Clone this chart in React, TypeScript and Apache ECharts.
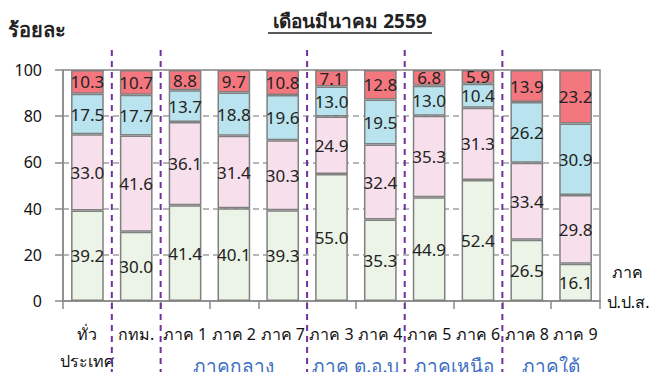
import React, { useEffect, useRef } from "react";
import * as echarts from "echarts";

const categories = ["ทั่ว\nประเทศ", "กทม.", "ภาค 1", "ภาค 2", "ภาค 7", "ภาค 3", "ภาค 4", "ภาค 5", "ภาค 6", "ภาค 8", "ภาค 9"];
const seriesGreen = [39.2, 30.0, 41.4, 40.1, 39.3, 55.0, 35.3, 44.9, 52.4, 26.5, 16.1];
const seriesPink = [33.0, 41.6, 36.1, 31.4, 30.3, 24.9, 32.4, 35.3, 31.3, 33.4, 29.8];
const seriesBlue = [17.5, 17.7, 13.7, 18.8, 19.6, 13.0, 19.5, 13.0, 10.4, 26.2, 30.9];
const seriesRed = [10.3, 10.7, 8.8, 9.7, 10.8, 7.1, 12.8, 6.8, 5.9, 13.9, 23.2];
const yTicks = [0, 20, 40, 60, 80, 100];
const groupNames = ["ภาคกลาง", "ภาค ต.อ.บ", "ภาคเหนือ", "ภาคใต้"];
const groupRanges = [[2, 4], [5, 6], [7, 8], [9, 10]];
const dividerAfter = [0, 1, 4, 6, 8];
const titleText = "เดือนมีนาคม 2559";
const yAxisTitle = "ร้อยละ";
const rightLabel = ["ภาค", "ป.ป.ส."];

const FONT = "Tahoma, 'Noto Sans', 'DejaVu Sans', sans-serif";
const colors = ["#EBF4E6", "#F7E0EC", "#B9E3EE", "#F4777F"];

export default function App() {
  const ref = useRef<HTMLDivElement>(null);
  useEffect(() => {
    document.body.style.margin = "0";
    if (!ref.current) return;
    const chart = echarts.init(ref.current, null, { renderer: "svg" });
    const mk = (name: string, data: number[], color: string) => ({
      name,
      type: "bar",
      stack: "total",
      data,
      barWidth: "67%",
      itemStyle: { color, borderColor: "#808080", borderWidth: 1.5 },
      label: {
        show: true,
        position: "inside",
        fontSize: 17,
        fontFamily: FONT,
        color: "#222",
        formatter: (p: any) => Number(p.value).toFixed(1),
      },
    });
    chart.setOption({
      animation: false,
      grid: {
        left: 63,
        right: 51,
        top: 70,
        bottom: 71,
        containLabel: false,
        outerBoundsMode: "none",
        show: true,
        borderColor: "#8a8a8a",
        borderWidth: 1.5,
      },
      xAxis: {
        type: "category",
        data: categories,
        axisLine: { lineStyle: { color: "#8a8a8a", width: 1.5 } },
        axisTick: { show: true, interval: 0, length: 8, lineStyle: { color: "#8a8a8a", width: 1.5 } },
        axisLabel: { interval: 0, margin: 19, fontSize: 16, fontFamily: FONT, color: "#111", lineHeight: 27, verticalAlign: "top" },
      },
      yAxis: {
        type: "value",
        min: 0,
        max: 100,
        interval: 20,
        axisLine: { show: true, lineStyle: { color: "#8a8a8a", width: 1.5 } },
        axisTick: { show: true, length: 8, lineStyle: { color: "#8a8a8a", width: 1.5 } },
        axisLabel: { margin: 21, fontSize: 16, fontFamily: FONT, color: "#111", customValues: yTicks },
        splitLine: { show: true, lineStyle: { color: "#a0a0a0", type: [6, 4], width: 1.5 } },
      },
      series: [
        mk("s1", seriesGreen, colors[0]),
        mk("s2", seriesPink, colors[1]),
        mk("s3", seriesBlue, colors[2]),
        mk("s4", seriesRed, colors[3]),
      ],
    });

    const px = (i: number) => chart.convertToPixel({ xAxisIndex: 0 }, i) as number;
    const graphics: any[] = [];
    dividerAfter.forEach((i) => {
      const x = (px(i) + px(i + 1)) / 2;
      graphics.push({
        type: "line",
        shape: { x1: x, y1: 50, x2: x, y2: 372 },
        style: { stroke: "#7030A0", lineWidth: 2, lineDash: [6, 5] },
        z: 100,
      });
    });
    groupNames.forEach((name, k) => {
      const [a, b] = groupRanges[k];
      const x = (px(a) + px(b)) / 2;
      graphics.push({
        type: "text",
        x,
        y: 356,
        style: { text: name, fill: "#3E6FC4", fontSize: 19, fontFamily: FONT, align: "center", verticalAlign: "top" },
      });
    });
    graphics.push({
      type: "text",
      x: 350,
      y: 21,
      style: { text: titleText, fill: "#222", fontSize: 19, fontWeight: "bold", fontFamily: FONT, align: "center", verticalAlign: "middle" },
    });
    graphics.push({
      type: "line",
      shape: { x1: 268, y1: 33, x2: 432, y2: 33 },
      style: { stroke: "#222", lineWidth: 1.5 },
    });
    graphics.push({
      type: "text",
      x: 8,
      y: 29,
      style: { text: yAxisTitle, fill: "#222", fontSize: 20, fontWeight: "bold", fontFamily: FONT, align: "left", verticalAlign: "middle" },
    });
    graphics.push({
      type: "text",
      x: 627,
      y: 272,
      style: { text: rightLabel[0], fill: "#111", fontSize: 16, fontFamily: FONT, align: "center", verticalAlign: "middle" },
    });
    graphics.push({
      type: "text",
      x: 628,
      y: 302,
      style: { text: rightLabel[1], fill: "#111", fontSize: 16, fontFamily: FONT, align: "center", verticalAlign: "middle" },
    });
    chart.setOption({ graphic: graphics });

    return () => chart.dispose();
  }, []);
  return <div ref={ref} style={{ width: 651, height: 372 }} />;
}
